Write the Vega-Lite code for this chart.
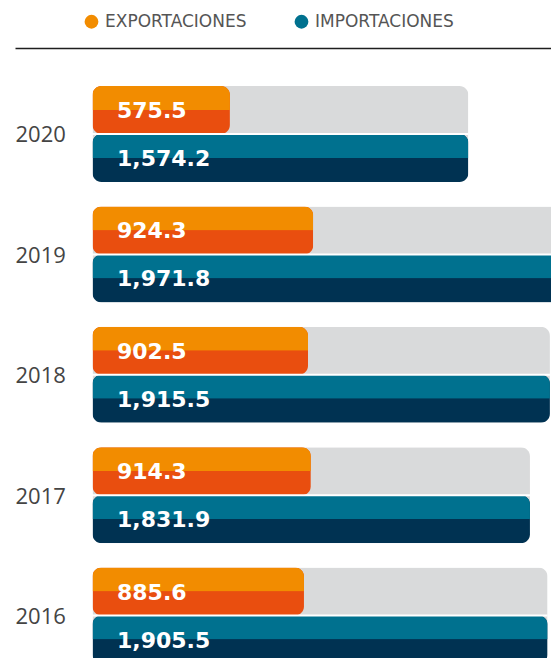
{
  "$schema": "https://vega.github.io/schema/vega-lite/v6.json",
  "width": 536,
  "height": 610,
  "padding": {"left": 15, "top": 48, "right": 0, "bottom": 0},
  "autosize": {"type": "none"},
  "background": "white",
  "config": {"view": {"stroke": null}},
  "data": {
    "values": [
      {"anio": "2020", "flujo": "EXPORTACIONES", "valor": 575.5},
      {"anio": "2020", "flujo": "IMPORTACIONES", "valor": 1574.2},
      {"anio": "2019", "flujo": "EXPORTACIONES", "valor": 924.3},
      {"anio": "2019", "flujo": "IMPORTACIONES", "valor": 1971.8},
      {"anio": "2018", "flujo": "EXPORTACIONES", "valor": 902.5},
      {"anio": "2018", "flujo": "IMPORTACIONES", "valor": 1915.5},
      {"anio": "2017", "flujo": "EXPORTACIONES", "valor": 914.3},
      {"anio": "2017", "flujo": "IMPORTACIONES", "valor": 1831.9},
      {"anio": "2016", "flujo": "EXPORTACIONES", "valor": 885.6},
      {"anio": "2016", "flujo": "IMPORTACIONES", "valor": 1905.5}
    ]
  },
  "encoding": {
    "y": {
      "field": "anio",
      "type": "nominal",
      "scale": {
        "domain": ["2020", "2019", "2018", "2017", "2016"],
        "range": [38, 615.6],
        "paddingInner": 0.2027,
        "paddingOuter": 0
      },
      "axis": {
        "title": null,
        "domain": false,
        "ticks": false,
        "tickSize": 0,
        "labelAlign": "left",
        "labelBaseline": "middle",
        "labelPadding": 0,
        "labelOffset": 1.5,
        "labelFont": "Open Sans",
        "labelFontSize": 22,
        "labelColor": "#444444"
      }
    },
    "x": {
      "field": "valor",
      "type": "quantitative",
      "scale": {"domain": [-324.5, 1920], "nice": false, "zero": false},
      "axis": {
        "orient": "top",
        "title": null,
        "labels": false,
        "ticks": false,
        "grid": false,
        "domain": true,
        "domainColor": "#1e1e1e",
        "domainWidth": 1.6
      }
    }
  },
  "layer": [
    {
      "transform": [{"filter": "datum.flujo === 'IMPORTACIONES'"}],
      "mark": {"type": "bar", "color": "#D9DADB", "cornerRadius": 9}
    },
    {
      "mark": {"type": "bar", "cornerRadius": 9},
      "encoding": {
        "yOffset": {
          "field": "flujo",
          "type": "nominal",
          "scale": {"domain": ["EXPORTACIONES", "IMPORTACIONES"], "paddingInner": 0, "paddingOuter": 0}
        },
        "fill": {
          "field": "flujo",
          "type": "nominal",
          "scale": {"domain": ["IMPORTACIONES", "EXPORTACIONES"], "range": ["#003252", "#E94E0F"]},
          "legend": null
        }
      }
    },
    {
      "mark": {"type": "bar", "cornerRadiusTopLeft": 9, "cornerRadiusTopRight": 9},
      "encoding": {
        "yOffset": {
          "field": "flujo",
          "type": "nominal",
          "scale": {"domain": ["EXPORTACIONES", "e2", "IMPORTACIONES", "i2"], "paddingInner": 0, "paddingOuter": 0}
        },
        "color": {
          "field": "flujo",
          "type": "nominal",
          "scale": {"domain": ["EXPORTACIONES", "IMPORTACIONES"], "range": ["#F28C00", "#00718F"]},
          "legend": {
            "orient": "none",
            "legendX": 68,
            "legendY": -35,
            "direction": "horizontal",
            "title": null,
            "padding": 0,
            "symbolType": "circle",
            "symbolSize": 190,
            "symbolStrokeWidth": 0,
            "labelFont": "DejaVu Sans",
            "labelFontSize": 17,
            "labelColor": "#555555",
            "labelOffset": 5,
            "columnPadding": 46
          }
        }
      }
    },
    {
      "transform": [{"filter": "datum.flujo === 'IMPORTACIONES'"}],
      "mark": {"type": "rule", "color": "white", "strokeWidth": 2},
      "encoding": {
        "x2": {"datum": -20}
      }
    },
    {
      "mark": {"type": "text", "color": "white", "font": "DejaVu Sans", "fontWeight": "bold", "fontSize": 22, "align": "left", "baseline": "middle", "dx": 24.5, "dy": 1},
      "encoding": {
        "x": {"datum": 0, "type": "quantitative"},
        "yOffset": {
          "field": "flujo",
          "type": "nominal",
          "scale": {"domain": ["EXPORTACIONES", "IMPORTACIONES"], "padding": 0.5}
        },
        "text": {"field": "valor", "type": "quantitative", "format": ",.1f"}
      }
    }
  ],
  "resolve": {"scale": {"yOffset": "independent"}}
}
